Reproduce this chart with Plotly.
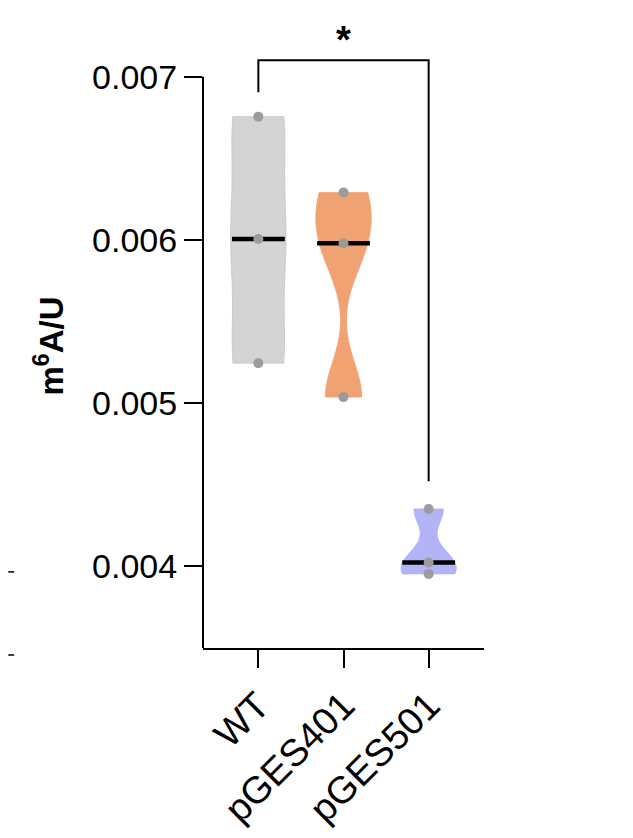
import numpy as np
import plotly.graph_objects as go

# m6A/U ratio per strain, three replicates each
groups = ["WT", "pGES401", "pGES501"]
wt_values = [0.006755, 0.006006, 0.005245]
pges401_values = [0.006290, 0.005979, 0.005037]
pges501_values = [0.004352, 0.004024, 0.003954]
all_values = [wt_values, pges401_values, pges501_values]

fill_colors = ["#d4d4d4", "#f1a272", "#b3b3f7"]
line_colors = ["#c4c4c4", "#f1a272", "#b3b3f7"]
bandwidths = [0.00035, 0.00021, 0.0001]

y_ticks = [0.004, 0.005, 0.006, 0.007]
y_range = [0.0035, 0.0072]

FONT = "Arial, Liberation Sans, Helvetica, sans-serif"
VIOLIN_WIDTH = 0.65
MEDIAN_HALF = 0.31

fig = go.Figure()

for i, (name, vals) in enumerate(zip(groups, all_values)):
    fig.add_trace(go.Violin(
        x=[i] * len(vals), y=vals, name=name,
        width=VIOLIN_WIDTH, spanmode="hard", bandwidth=bandwidths[i],
        fillcolor=fill_colors[i], opacity=1,
        line=dict(color=line_colors[i], width=0.8),
        points=False, box_visible=False, meanline_visible=False,
        scalemode="width", hoverinfo="skip", showlegend=False,
    ))

# median bars
for i, vals in enumerate(all_values):
    med = float(np.median(vals))
    fig.add_trace(go.Scatter(
        x=[i - MEDIAN_HALF, i + MEDIAN_HALF], y=[med, med], mode="lines",
        line=dict(color="black", width=4.5), showlegend=False, hoverinfo="skip",
    ))

# replicate dots
for i, vals in enumerate(all_values):
    fig.add_trace(go.Scatter(
        x=[i] * len(vals), y=vals, mode="markers",
        marker=dict(color="#9b9b9b", size=10), showlegend=False,
        cliponaxis=False,
    ))

# significance bracket WT vs pGES501
bracket_top = 0.0071
left_leg = max(wt_values) + 0.00015
right_leg = max(pges501_values) + 0.00017
fig.add_trace(go.Scatter(
    x=[0, 0, 2, 2], y=[left_leg, bracket_top, bracket_top, right_leg],
    mode="lines", line=dict(color="black", width=2),
    showlegend=False, hoverinfo="skip",
))
fig.add_annotation(x=1, y=bracket_top, text="<b>*</b>", showarrow=False,
                   yanchor="bottom", yshift=-3,
                   font=dict(size=38, color="black", family=FONT))

# y axis line only up to top tick
fig.add_shape(type="line", xref="paper", yref="y", x0=0, x1=0,
              y0=y_range[0], y1=max(y_ticks),
              line=dict(color="black", width=2))

# stray tick marks at left edge (from neighbouring panel)
for yp in [0.126, -0.0116]:
    fig.add_shape(type="line", xref="paper", yref="paper",
                  x0=-0.693, x1=-0.672, y0=yp, y1=yp,
                  line=dict(color="black", width=1.5))

fig.update_xaxes(
    range=[-0.65, 2.65], tickmode="array", tickvals=[0, 1, 2], ticktext=groups,
    tickangle=-45, showline=True, linecolor="black", linewidth=2,
    ticks="outside", ticklen=18, tickwidth=2, tickcolor="black",
    showgrid=False, zeroline=False,
    tickfont=dict(size=38, color="black", family=FONT),
)
fig.update_yaxes(
    range=y_range, tickmode="array", tickvals=y_ticks,
    ticktext=[f"{v:.3f}" for v in y_ticks],
    showline=False, ticks="outside", ticklen=18, tickwidth=2, tickcolor="black",
    showgrid=False, zeroline=False,
    tickfont=dict(size=34, color="black", family=FONT),
    title=dict(text="<b>m<sup>6</sup>A/U</b>", standoff=18,
               font=dict(size=33, color="black", family=FONT)),
)
fig.update_layout(
    width=633, height=838,
    margin=dict(l=195, r=157, t=36, b=198),
    plot_bgcolor="white", paper_bgcolor="white",
    violinmode="overlay",
    font=dict(family=FONT, color="black"),
)

fig.write_html("out.html")
